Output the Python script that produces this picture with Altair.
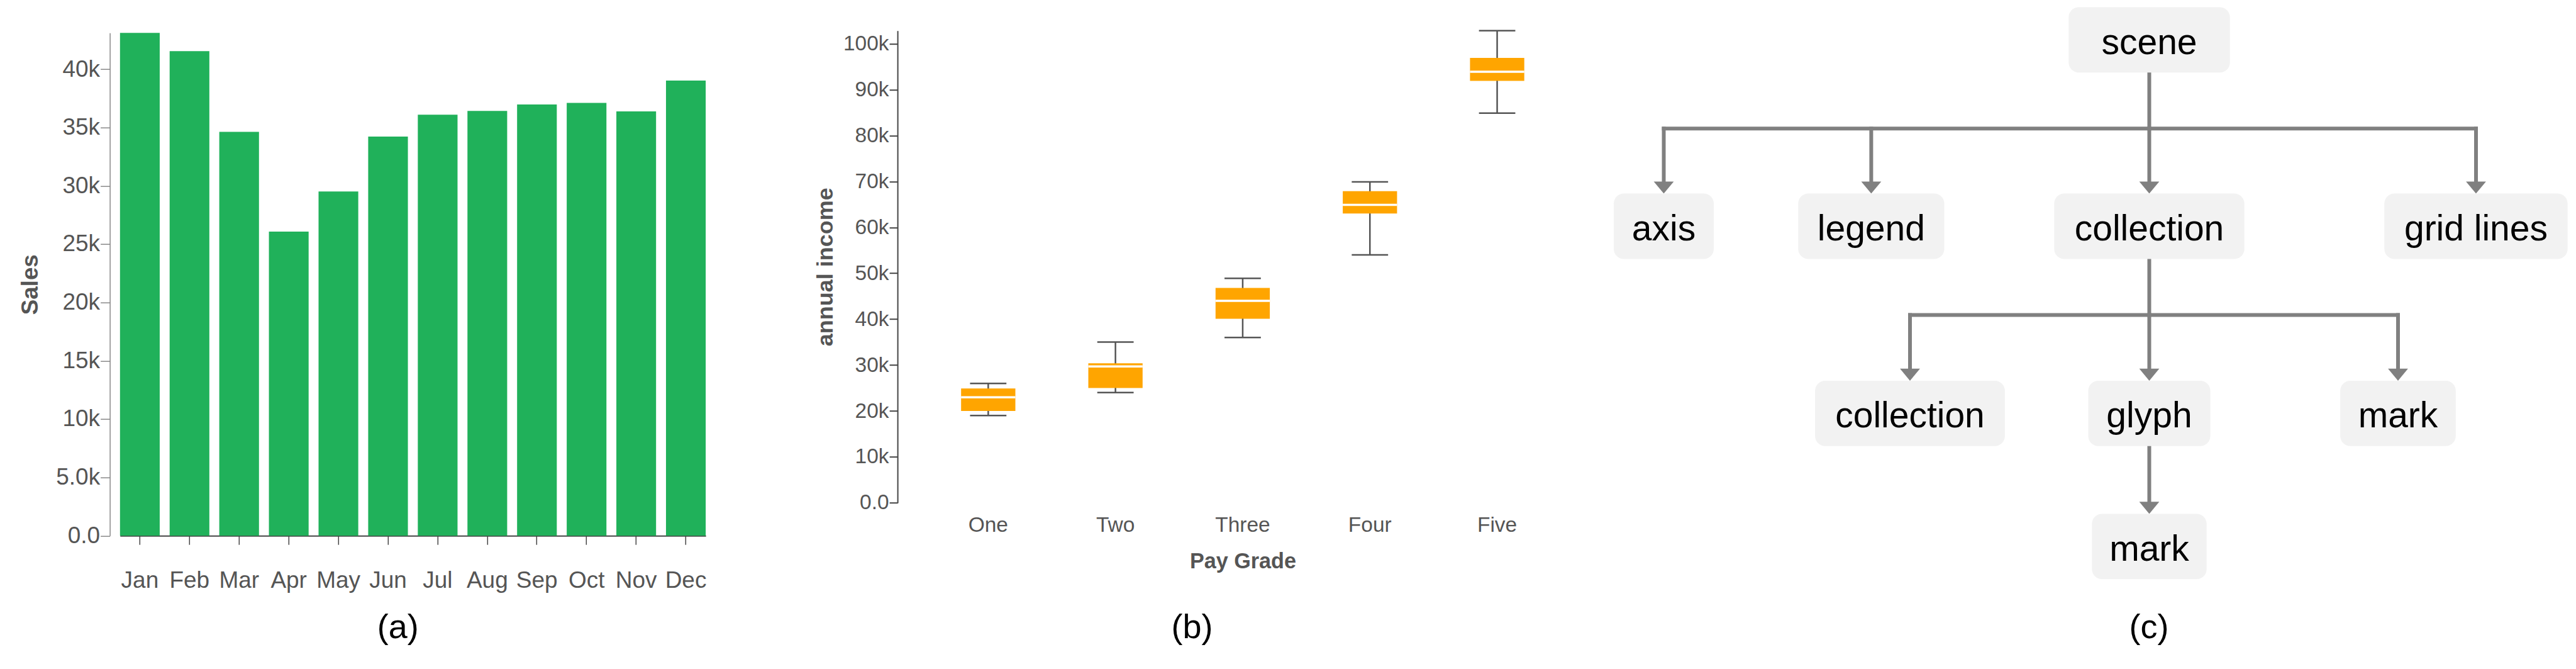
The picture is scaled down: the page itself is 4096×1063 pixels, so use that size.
import altair as alt
import pandas as pd

# ---------------- data ----------------
months = ["Jan", "Feb", "Mar", "Apr", "May", "Jun", "Jul", "Aug", "Sep", "Oct", "Nov", "Dec"]
sales = [43120, 41550, 34630, 26080, 29520, 34230, 36100, 36430, 36980, 37120, 36390, 39030]
sales_ticks = [0, 5000, 10000, 15000, 20000, 25000, 30000, 35000, 40000]

grades = ["One", "Two", "Three", "Four", "Five"]
income_min = [19000, 24000, 36000, 54000, 84900]
income_q1 = [20000, 25000, 40100, 63000, 91900]
income_median = [23000, 29700, 44000, 64900, 93900]
income_q3 = [24900, 30400, 46800, 67900, 96900]
income_max = [26000, 35000, 48900, 69900, 102850]
income_ticks = [0, 10000, 20000, 30000, 40000, 50000, 60000, 70000, 80000, 90000, 100000]

node_ids = ["scene", "axis", "legend", "collection", "grid", "collection2", "glyph", "mark", "mark2"]
node_labels = ["scene", "axis", "legend", "collection", "grid lines", "collection", "glyph", "mark", "mark"]
node_parents = [None, "scene", "scene", "scene", "scene", "collection", "collection", "collection", "glyph"]

captions = ["(a)", "(b)", "(c)"]

# ---------------- style / layout (output pixels) ----------------
FONT = "Liberation Sans"
GREEN = "#20B15A"
ORANGE = "#FFA500"
LINE = "#808080"
BOXFILL = "#F2F2F2"

ROW_TOP = 40.7
A_LEFT = 182.8
A_W = 931.3
A_TOP = 44.2
A_BOTTOM = 843.2
A_H = A_BOTTOM - ROW_TOP
GAP = 304.3
B_W = 1097.7
B_H = 750.2
C_LEFT = A_LEFT + A_W + GAP + B_W + GAP
C_W = 1255

# tree layout
level_top = [3.4, 299.6, 596.9, 808.4]
BOX_H = 103.9
BAR_GAP = 89.0
ARROW_H = 19.1
ARROW_SIZE = 1011
TEXT_DY = 74.6
node_layout = {
    "scene": (3408.5, 256.4, 0),
    "axis": (2636.5, 159.0, 1),
    "legend": (2966.4, 232.3, 1),
    "collection": (3408.5, 302.4, 1),
    "grid": (3928.0, 291.4, 1),
    "collection2": (3028.0, 301.8, 2),
    "glyph": (3408.5, 194.1, 2),
    "mark": (3804.0, 183.7, 2),
    "mark2": (3408.5, 182.4, 3),
}
caption_x = [623.8, 1886.5, 3408.0]
CAPTION_Y = 1006.4

# ---------------- panel (a) ----------------
df_sales = pd.DataFrame({"month": months, "sales": sales})
panel_a = alt.Chart(df_sales).mark_bar(color=GREEN).encode(
    x=alt.X("month:N", sort=months, title=None,
            scale=alt.Scale(paddingInner=0.2, paddingOuter=0),
            axis=alt.Axis(labelAngle=0, bandPosition=0.5, domainColor="#444", domainWidth=2,
                          tickColor="#444", tickWidth=1.5, tickSize=14,
                          labelFontSize=37, labelColor="#555", labelPadding=39, labelFont=FONT)),
    y=alt.Y("sales:Q", title="Sales",
            scale=alt.Scale(domain=[0, max(sales)], nice=False, zero=True,
                            range=[A_H, A_TOP - ROW_TOP]),
            axis=alt.Axis(values=sales_ticks, format=".2s", offset=16.2, grid=False,
                          domainColor="#888", domainWidth=1.5, tickColor="#888", tickWidth=1.5,
                          tickSize=15, labelFontSize=37, labelColor="#555", labelPadding=1,
                          labelFont=FONT, titleFont=FONT, titleFontSize=36.7,
                          titleFontWeight="bold", titleColor="#555", titlePadding=21)),
).properties(width=A_W, height=A_H)

# ---------------- panel (b) ----------------
df_inc = pd.DataFrame({"grade": grades, "lo": income_min, "q1": income_q1,
                       "med": income_median, "q3": income_q3, "hi": income_max})
xb = alt.X("grade:N", sort=grades, title="Pay Grade",
           scale=alt.Scale(paddingInner=0, paddingOuter=0.213),
           axis=alt.Axis(labelAngle=0, domain=False, ticks=False, tickSize=0,
                         labelFontSize=33.5, labelColor="#555", labelPadding=19.6, labelFont=FONT,
                         titleFont=FONT, titleFontSize=34.2, titleFontWeight="bold",
                         titleColor="#555", titlePadding=25))
yscale_b = alt.Scale(domain=[0, max(income_max)], nice=False, zero=True)
yaxis_b = alt.Axis(values=income_ticks, format=".2s", grid=False,
                   domainColor="#444", domainWidth=2, tickColor="#444", tickWidth=2, tickSize=13,
                   labelFontSize=33.5, labelColor="#555", labelPadding=1, labelFont=FONT,
                   titleFont=FONT, titleFontSize=36, titleFontWeight="bold",
                   titleColor="#555", titlePadding=9)


def yb(field):
    return alt.Y(f"{field}:Q", title="annual income", scale=yscale_b, axis=yaxis_b)


base_b = alt.Chart(df_inc).encode(x=xb)
whisk = base_b.mark_rule(color="#555", strokeWidth=2.5).encode(y=yb("lo"), y2=alt.Y2("hi"))
box = base_b.mark_bar(color=ORANGE, size=86.3).encode(y=yb("q1"), y2=alt.Y2("q3"))
med = base_b.mark_tick(color="white", size=86.3, thickness=3.5, opacity=1).encode(y=yb("med"))
cap_lo = base_b.mark_tick(color="#555", size=57.8, thickness=2.5, opacity=1).encode(y=yb("lo"))
cap_hi = base_b.mark_tick(color="#555", size=57.8, thickness=2.5, opacity=1).encode(y=yb("hi"))
panel_b = alt.layer(whisk, box, med, cap_lo, cap_hi).properties(width=B_W, height=B_H)

# ---------------- panel (c) ----------------
nodes = []
for nid, lab in zip(node_ids, node_labels):
    cx, w, lev = node_layout[nid]
    top = level_top[lev]
    nodes.append({"id": nid, "label": lab, "cx": cx, "x1": cx - w / 2, "x2": cx + w / 2,
                  "y1": top, "y2": top + BOX_H, "ty": top + TEXT_DY})
df_nodes = pd.DataFrame(nodes)

children = {}
for nid, par in zip(node_ids, node_parents):
    if par:
        children.setdefault(par, []).append(nid)

segs, arrows = [], []
for par, kids in children.items():
    pcx, _, plev = node_layout[par]
    pbot = level_top[plev] + BOX_H
    ktop = level_top[plev + 1]
    kxs = [node_layout[k][0] for k in kids]
    if len(kids) > 1:
        bar_y = pbot + BAR_GAP
        segs.append({"x1": min(kxs), "x2": max(kxs), "y1": bar_y, "y2": bar_y})
        segs.append({"x1": pcx, "x2": pcx, "y1": pbot, "y2": bar_y})
        for kx in kxs:
            segs.append({"x1": kx, "x2": kx, "y1": bar_y, "y2": ktop - ARROW_H})
    else:
        segs.append({"x1": pcx, "x2": pcx, "y1": pbot, "y2": ktop - ARROW_H})
    for kx in kxs:
        arrows.append({"x": kx, "y": ktop})
df_segs = pd.DataFrame(segs)
df_arrows = pd.DataFrame(arrows)
df_caps = pd.DataFrame({"caption": captions, "x": caption_x, "y": [CAPTION_Y] * len(captions)})

xc = alt.Scale(domain=[0, 4096], range=[-C_LEFT, 4096 - C_LEFT], zero=False, nice=False)
yc = alt.Scale(domain=[0, 1063], range=[-ROW_TOP, 1063 - ROW_TOP], zero=False, nice=False)


def XC(f):
    return alt.X(f"{f}:Q", scale=xc, axis=None)


def YC(f):
    return alt.Y(f"{f}:Q", scale=yc, axis=None)


edges_c = alt.Chart(df_segs).mark_rule(color=LINE, strokeWidth=6, strokeCap="square").encode(
    x=XC("x1"), x2=alt.X2("x2"), y=YC("y1"), y2=alt.Y2("y2"))
arrows_c = alt.Chart(df_arrows).mark_point(shape="M-1,-1.2L1,-1.2L0,0Z", size=ARROW_SIZE,
                                           filled=True, color=LINE, opacity=1, strokeWidth=0).encode(
    x=XC("x"), y=YC("y"))
boxes_c = alt.Chart(df_nodes).mark_rect(color=BOXFILL, cornerRadius=16).encode(
    x=XC("x1"), x2=alt.X2("x2"), y=YC("y1"), y2=alt.Y2("y2"))
labels_c = alt.Chart(df_nodes).mark_text(fontSize=57, font=FONT, color="black",
                                         baseline="alphabetic", align="center").encode(
    x=XC("cx"), y=YC("ty"), text="label:N")
caps_c = alt.Chart(df_caps).mark_text(fontSize=54, font=FONT, color="black",
                                      baseline="alphabetic", align="center").encode(
    x=XC("x"), y=YC("y"), text="caption:N")
panel_c = alt.layer(edges_c, arrows_c, boxes_c, labels_c, caps_c).properties(width=C_W, height=A_H)

chart = alt.hconcat(panel_a, panel_b, panel_c, spacing=GAP, bounds="flush").properties(
    padding={"left": 21.8, "top": 2.7, "right": 0, "bottom": 0}
).configure(font=FONT).configure_view(stroke=None, strokeWidth=0)

chart.save("out.html", embed_options={"renderer": "svg", "actions": False})
